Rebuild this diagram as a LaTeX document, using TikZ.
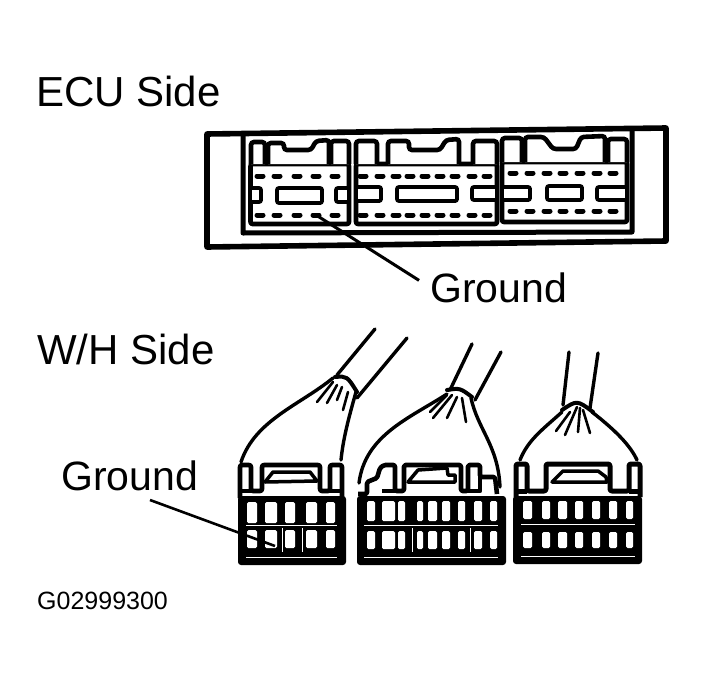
\documentclass[tikz,border=0pt]{standalone}
\usepackage{fontspec}
\setmainfont{Liberation Sans}
\usepackage{tikz}
\tikzset{
  bigtxt/.style={anchor=base west,inner sep=0pt,font=\fontsize{41}{41}\selectfont},
  sidetxt/.style={anchor=base west,inner sep=0pt,font=\fontsize{42}{42}\selectfont},
  smalltxt/.style={anchor=base west,inner sep=0pt,font=\fontsize{25}{25}\selectfont},
  heavy/.style={line width=4.6pt,line join=round},
  toothbox/.style={line width=4.6pt,rounded corners=3pt,fill=white},
  slotmark/.style={line width=5pt,line cap=round},
  slotbox/.style={line width=3.8pt,rounded corners=2pt,fill=white},
  wire/.style={line width=3.4pt,line cap=round,line join=round},
  strand/.style={line width=2.6pt,line cap=round},
  hairline/.style={white,line width=0.8pt},
  pinhole/.style={white,rounded corners=1.5pt}
}
\begin{document}
\begin{tikzpicture}[x=1pt,y=-1pt]
\useasboundingbox (0,0) rectangle (706,685);
\node[sidetxt] (ecu) at (36,106) {ECU Side};
\node[sidetxt] (wh) at (37,364) {W/H Side};
\node[bigtxt] (ground1) at (430,302) {Ground};
\node[bigtxt] (ground2) at (61,490) {Ground};
\node[smalltxt] (code) at (37,609) {G02999300};
% ECU housing
\draw[heavy,line width=5.6pt] (207,134) -- (666,128) -- (666,241) -- (207,247) -- cycle;
\draw[heavy,line width=5pt] (243,136) -- (243,233) -- (632,232) -- (632,131);
% first socket
\draw[heavy,rounded corners=2pt] (250.5,164) rectangle (349,224);
\draw[toothbox] (251,164) -- (251,142) -- (265,142) -- (265,164);
\draw[toothbox] (268,164) -- (268,143) -- (284,143) -- (284,150) -- (311,150) -- (316,141) -- (329,140) -- (329,164);
\draw[toothbox] (331,164) -- (331,141) -- (349,141) -- (349,164);
\foreach \x in {260,277,297,316,335} {
  \draw[slotmark] (\x-3,176) -- (\x+3,176);
  \draw[slotmark] (\x-3,215) -- (\x+3,215);
}
\draw[slotbox] (277,188) rectangle (322,203);
\draw[slotbox] (250,188) rectangle (261,202);
\draw[slotbox] (336,188) rectangle (349,202);
% second socket
\draw[heavy,rounded corners=2pt] (356,164) rectangle (497,224);
\draw[toothbox] (356,164) -- (356,141) -- (377,141) -- (377,164);
\draw[toothbox] (388,164) -- (388,141) -- (409,141) -- (409,150) -- (440,150) -- (446,140) -- (459,139) -- (459,164);
\draw[toothbox] (473,164) -- (473,141) -- (497,141) -- (497,164);
\foreach \x in {363,380,396,410,425,440,455,472,487} {
  \draw[slotmark] (\x-3,176) -- (\x+3,176);
  \draw[slotmark] (\x-3,215) -- (\x+3,215);
}
\draw[slotbox] (397,187) rectangle (457,201);
\draw[slotbox] (356,187) rectangle (381,201);
\draw[slotbox] (472,187) rectangle (497,200);
% third socket
\draw[heavy,rounded corners=2pt] (502,162) rectangle (627,222);
\draw[toothbox] (502,162) -- (502,138) -- (522,138) -- (522,162);
\draw[toothbox] (525,162) -- (525,137) -- (544,137) -- (553,149) -- (576,149) -- (581,137) -- (605,136) -- (605,162);
\draw[toothbox] (608,162) -- (608,139) -- (627,139) -- (627,162);
\foreach \x in {513,530,547,563,580,597,613} {
  \draw[slotmark] (\x-3,173) -- (\x+3,173);
  \draw[slotmark] (\x-3,211) -- (\x+3,211);
}
\draw[slotbox] (547,186) rectangle (582,200);
\draw[slotbox] (502,187) rectangle (530,200);
\draw[slotbox] (597,187) rectangle (627,200);
% left plug
\draw[wire] (375,329) -- (337,375);
\draw[wire] (407,338) -- (357,398);
\draw[wire,line width=4pt] (335,377) .. controls (347,376) .. (357,392);
\draw[strand] (333,382) -- (317,402);
\draw[strand] (337,385) -- (327,403);
\draw[strand] (342,387) -- (337,400);
\draw[strand] (348,392) -- (343,410);
\draw[wire] (333,378) .. controls (300,405) and (255,420) .. (241,462);
\draw[wire] (356,392) .. controls (348,420) and (343,440) .. (341,460);
\fill[rounded corners=3pt] (238,496) rectangle (346,565);
\draw[heavy,rounded corners=2pt] (240,498) -- (240,465) -- (251,465) -- (251,491) -- (262,491) -- (262,465) -- (320,465) -- (320,491) -- (330,491) -- (330,465) -- (342,465) -- (342,498);
\draw[heavy] (240,491) -- (251,491);
\draw[heavy] (330,491) -- (342,491);
\draw[heavy,line width=3.5pt] (265,482) -- (273,472) -- (310,472) -- (317,481) -- cycle;
\foreach \x/\w in {247/10,265/12,285/10,306/11,326/9} {
  \fill[pinhole] (\x,502) rectangle ++(\w,21);
  \fill[pinhole] (\x,530) rectangle ++(\w,18);
}
\draw[hairline] (246,525) -- (337,525);
\draw[hairline] (282,528) -- (282,552);
\draw[hairline] (302,528) -- (302,552);
\draw[hairline] (246,557) -- (337,557);
% middle plug
\draw[wire] (472,344) -- (450,390);
\draw[wire] (501,352) -- (475,400);
\draw[wire,line width=4pt] (447,390) .. controls (460,388) .. (472,397);
\draw[strand] (447,395) -- (430,412);
\draw[strand] (452,395) -- (433,418);
\draw[strand] (457,397) -- (447,418);
\draw[strand] (462,398) -- (466,422);
\draw[wire] (447,394) .. controls (410,418) and (365,435) .. (359,483);
\draw[wire] (471,398) .. controls (478,430) and (498,445) .. (500,487);
\fill[rounded corners=3pt] (357,496) rectangle (506,565);
\draw[heavy,rounded corners=1.5pt] (358,494) -- (367,494) -- (367,482) -- (377,478) -- (380,468) -- (384,465) -- (395,465) -- (395,491) -- (404,491) -- (404,465) -- (461,465) -- (461,491) -- (468,491) -- (468,465) -- (480,465) -- (480,477) -- (495,477) -- (497,494);
\draw[heavy] (382,491) -- (395,491);
\draw[heavy] (468,491) -- (480,491) -- (480,477);
\draw[heavy,line width=3.5pt] (408,482) -- (418,470) -- (447,468) -- (448,475) -- (455,475) -- (455,482) -- cycle;
\foreach \x/\w in {367/8,382/13,398/7,417/6,428/9,442/8,458/7,474/8,490/7} {
  \fill[pinhole] (\x,501) rectangle ++(\w,20);
  \fill[pinhole] (\x,531) rectangle ++(\w,18);
}
\draw[hairline] (364,525) -- (498,525);
\draw[hairline] (412,528) -- (412,552);
\draw[hairline] (470,528) -- (470,552);
\draw[hairline] (364,557) -- (498,557);
% right plug
\draw[wire] (569,352) -- (563,405);
\draw[wire] (598,353) -- (590,408);
\draw[wire,line width=4pt] (562,410) .. controls (577,400) .. (593,412);
\draw[strand] (570,412) -- (556,431);
\draw[strand] (577,407) -- (565,435);
\draw[strand] (580,408) -- (578,432);
\draw[strand] (583,410) -- (590,433);
\draw[wire] (562,412) .. controls (542,430) and (528,440) .. (520,460);
\draw[wire] (592,412) .. controls (615,430) and (630,445) .. (637,460);
\fill[rounded corners=3pt] (513,496) rectangle (642,564);
\draw[heavy,line width=5pt,rounded corners=2pt] (516,497) -- (516,464) -- (527,464) -- (527,491) -- (546,491) -- (546,464) -- (610,464) -- (610,491) -- (629,491) -- (629,464) -- (640,464) -- (640,497);
\draw[heavy,line width=5pt] (516,491) -- (527,491);
\draw[heavy,line width=5pt] (629,491) -- (640,491);
\draw[heavy,line width=3.5pt] (552,482) -- (563,471) -- (598,471) -- (606,477) -- (607,482) -- cycle;
\foreach \x/\w in {523/9,542/8,558/9,575/8,592/8,609/8,626/7} {
  \fill[pinhole] (\x,501) rectangle ++(\w,18);
  \fill[pinhole] (\x,532) rectangle ++(\w,16);
}
\draw[hairline] (521,524) -- (635,524);
\draw[hairline] (521,556) -- (635,556);
% leaders
\coordinate (ecupin) at (316,215);
\coordinate (plugpin) at (275,546);
\coordinate (leadstart) at (150,500);
\draw[line width=3pt,shorten <=13pt] (ground1.west) -- (ecupin);
\draw[line width=2.6pt] (leadstart) -- (plugpin);
\end{tikzpicture}
\end{document}
